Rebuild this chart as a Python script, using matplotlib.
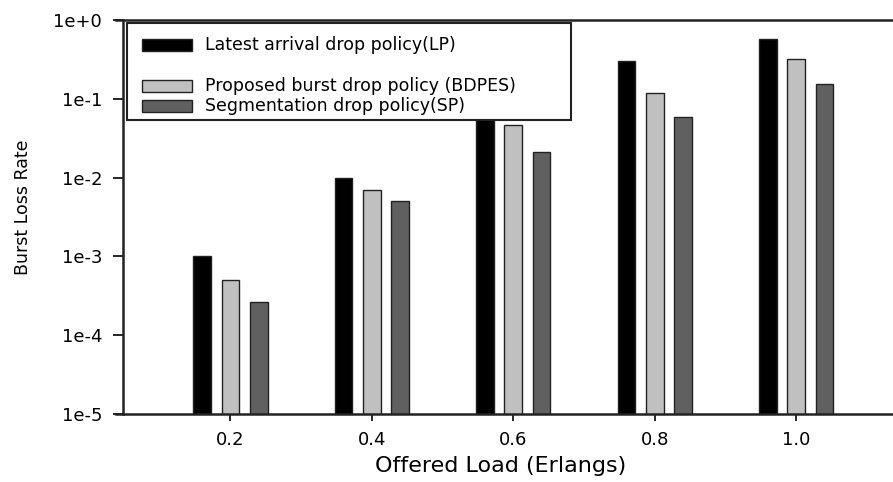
import matplotlib.pyplot as plt
import numpy as np
from matplotlib.patches import Rectangle
from matplotlib.ticker import FixedLocator, FixedFormatter, NullLocator

# Offered load (Erlangs) and burst loss rates
loads = [0.2, 0.4, 0.6, 0.8, 1.0]
lp = [1.0e-3, 1.0e-2, 8.0e-2, 0.30, 0.58]
bdpes = [5.0e-4, 7.0e-3, 4.6e-2, 0.12, 0.32]
sp = [2.6e-4, 5.0e-3, 2.1e-2, 0.059, 0.153]

series_names = [
    "Latest arrival drop policy(LP)",
    "Proposed burst drop policy (BDPES)",
    "Segmentation drop policy(SP)",
]
ytick_values = [1e-5, 1e-4, 1e-3, 1e-2, 1e-1, 1e0]
ytick_labels = ["1e-5", "1e-4", "1e-3", "1e-2", "1e-1", "1e+0"]
xtick_labels = ["0.2", "0.4", "0.6", "0.8", "1.0"]

colors = ["#000000", "#c0c0c0", "#606060"]
offsets = [-0.04, 0.0, 0.04]
width = 0.025

fig = plt.figure(figsize=(8.93, 4.82), dpi=100)
ax = fig.add_axes([0.1377, 0.1411, 0.8623, 0.8174])

x = np.array(loads)
for vals, col, off in zip([lp, bdpes, sp], colors, offsets):
    ax.bar(x + off, vals, width=width, color=col, edgecolor="#222222",
           linewidth=1.0, zorder=2)

ax.set_yscale("log")
ax.set_ylim(1e-5, 1e0)
ax.set_xlim(0.048, 1.137)

ax.yaxis.set_major_locator(FixedLocator(ytick_values))
ax.yaxis.set_major_formatter(FixedFormatter(ytick_labels))
ax.yaxis.set_minor_locator(NullLocator())
ax.set_xticks(loads)
ax.set_xticklabels(xtick_labels)

ax.tick_params(axis="y", direction="out", length=7, width=1.2, labelsize=13, pad=8)
ax.tick_params(axis="x", direction="out", length=5, width=1.2, labelsize=13, pad=7)

for side in ["left", "bottom", "top"]:
    ax.spines[side].set_linewidth(1.8)
    ax.spines[side].set_color("#222222")
ax.spines["right"].set_visible(False)
ax.spines["bottom"].set_bounds(0.038, 1.137)
ax.spines["top"].set_bounds(0.038, 1.137)

ax.set_xlabel("Offered Load (Erlangs)", fontsize=16)
ax.xaxis.set_label_coords(0.49, -0.106)
ax.set_ylabel("Burst Loss Rate", fontsize=12.5)
ax.yaxis.set_label_coords(-0.118, 0.525)

# legend box drawn by hand (uneven row spacing as in the original)
ax.add_patch(Rectangle((0.0052, 0.746), 0.5766, 0.246, transform=ax.transAxes,
                       facecolor="white", edgecolor="#222222", linewidth=1.5,
                       zorder=5))
rows = [0.937, 0.8325, 0.7817]
for name, col, yr in zip(series_names, colors, rows):
    ax.add_patch(Rectangle((0.0247, yr - 0.015), 0.065, 0.03, transform=ax.transAxes,
                           facecolor=col, edgecolor="#222222", linewidth=1.0,
                           zorder=6))
    ax.text(0.1065, yr, name, transform=ax.transAxes, fontsize=12.5,
            va="center", ha="left", zorder=6)

fig.savefig("out.png", dpi=100)
